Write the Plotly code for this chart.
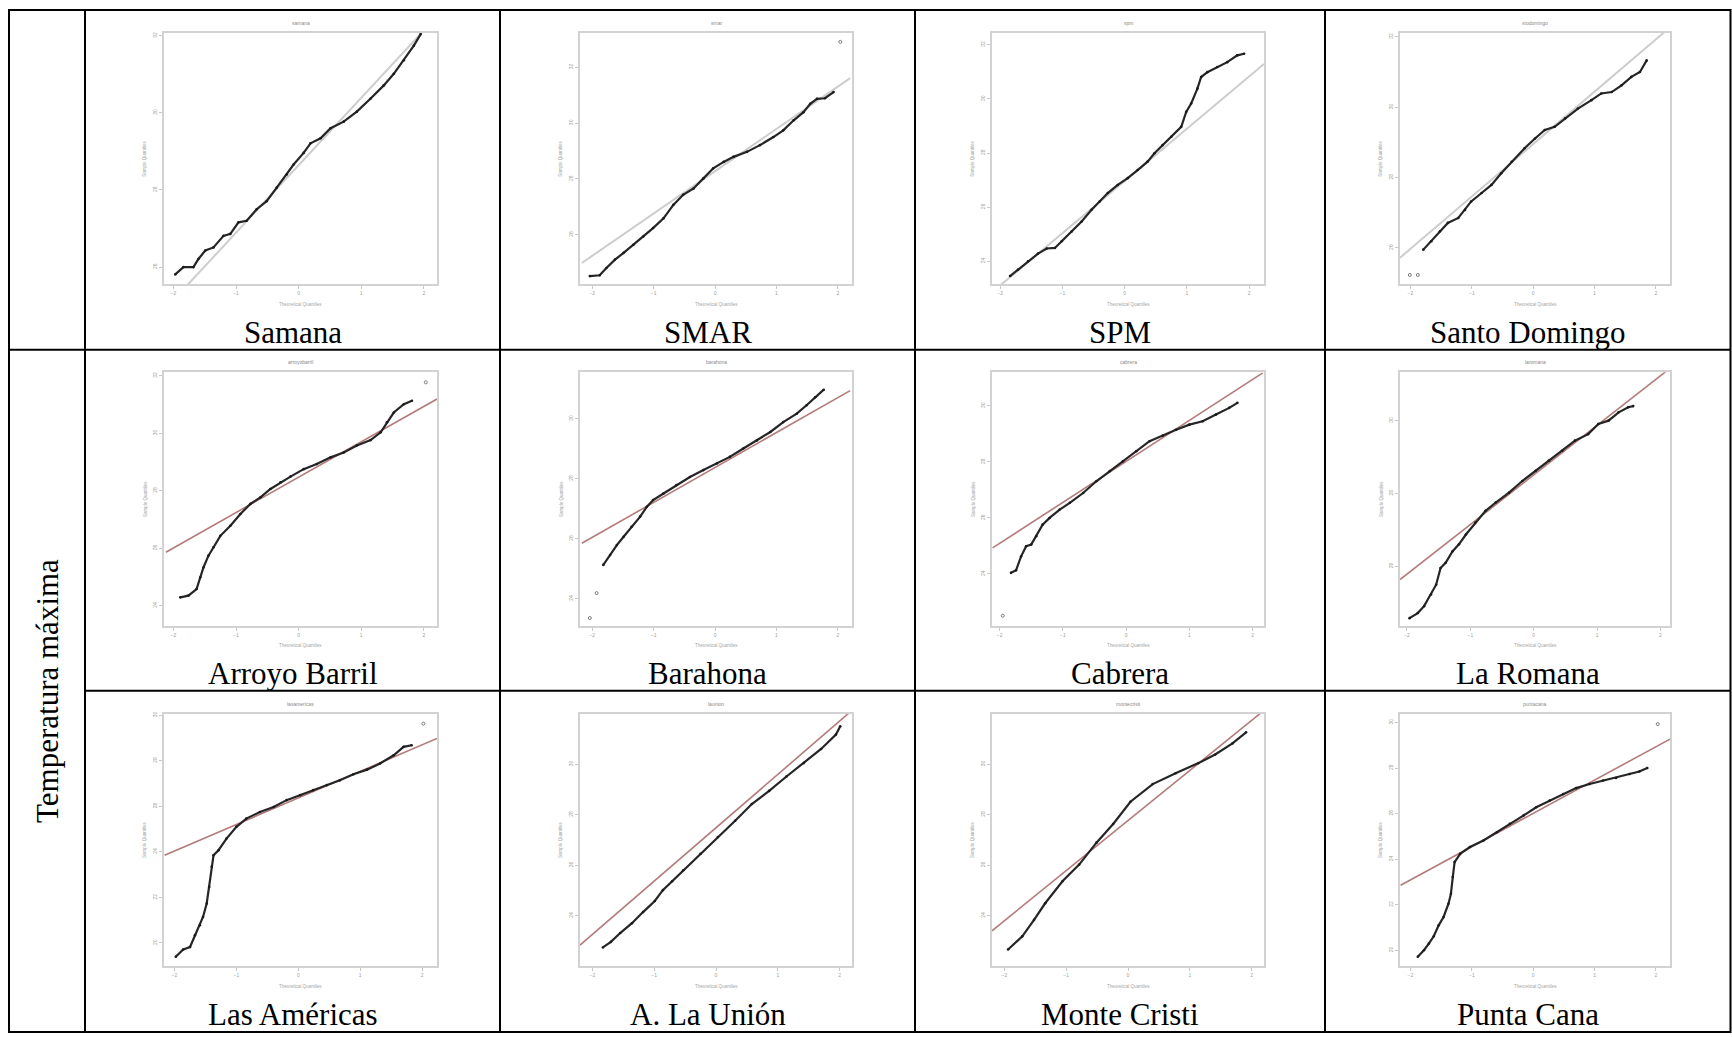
import plotly.graph_objects as go

W, H = 1732, 1037

# ---------------- data ----------------
captions = ["Samana", "SMAR", "SPM", "Santo Domingo",
            "Arroyo Barril", "Barahona", "Cabrera", "La Romana",
            "Las Américas", "A. La Unión", "Monte Cristi", "Punta Cana"]
plot_titles = ["samana", "smar", "spm", "stodomingo",
               "arroyobarril", "barahona", "cabrera", "laromana",
               "lasamericas", "launion", "montecristi", "puntacana"]
row_label = "Temperatura máxima"
x_ticks = [-2, -1, 0, 1, 2]

samana_q = [-1.97, -1.84, -1.68, -1.60, -1.49, -1.36, -1.20, -1.09, -0.96, -0.83, -0.67, -0.51, -0.35, -0.19,
            -0.08, 0.08, 0.19, 0.35, 0.51, 0.72, 0.93, 1.15, 1.36, 1.52, 1.68, 1.84, 1.95]
samana_t = [25.81, 26.00, 26.00, 26.21, 26.43, 26.51, 26.81, 26.86, 27.16, 27.20, 27.50, 27.71, 28.06, 28.40,
            28.66, 28.96, 29.21, 29.34, 29.60, 29.77, 30.03, 30.37, 30.71, 31.01, 31.36, 31.74, 32.04]
samana_ref_q = [-2.18, 2.18]
samana_ref_t = [24.83, 32.45]
samana_yticks = [26, 28, 30, 32]

smar_q = [-2.04, -1.88, -1.77, -1.63, -1.49, -1.33, -1.17, -1.01, -0.84, -0.68, -0.52, -0.35, -0.19, -0.03,
          0.14, 0.30, 0.52, 0.73, 0.95, 1.11, 1.28, 1.44, 1.55, 1.66, 1.79, 1.93]
smar_t = [24.52, 24.55, 24.81, 25.11, 25.35, 25.64, 25.94, 26.24, 26.59, 27.07, 27.43, 27.66, 28.02, 28.38,
          28.61, 28.79, 28.97, 29.21, 29.50, 29.74, 30.10, 30.39, 30.69, 30.87, 30.89, 31.11]
smar_out_q = [2.04]
smar_out_t = [32.91]
smar_ref_q = [-2.17, 2.20]
smar_ref_t = [24.99, 31.61]
smar_yticks = [26, 28, 30, 32]

spm_q = [-1.84, -1.71, -1.55, -1.39, -1.25, -1.12, -1.01, -0.85, -0.69, -0.53, -0.40, -0.27, -0.11, 0.05,
         0.21, 0.37, 0.48, 0.61, 0.75, 0.91, 0.99, 1.07, 1.17, 1.23, 1.33, 1.49, 1.65, 1.81, 1.92]
spm_t = [23.45, 23.69, 24.00, 24.28, 24.47, 24.49, 24.74, 25.10, 25.47, 25.90, 26.21, 26.52, 26.82, 27.07,
         27.37, 27.68, 27.99, 28.29, 28.60, 28.97, 29.52, 29.83, 30.38, 30.81, 30.99, 31.18, 31.36, 31.61, 31.67]
spm_ref_q = [-2.13, 2.24]
spm_ref_t = [22.85, 31.29]
spm_yticks = [24, 26, 28, 30, 32]

sd_q = [-1.79, -1.66, -1.52, -1.39, -1.22, -1.11, -1.01, -0.84, -0.68, -0.52, -0.35, -0.14, 0.03, 0.19,
        0.35, 0.52, 0.73, 0.95, 1.11, 1.28, 1.44, 1.60, 1.74, 1.85]
sd_t = [25.95, 26.19, 26.47, 26.71, 26.85, 27.08, 27.32, 27.56, 27.79, 28.12, 28.45, 28.83, 29.11, 29.35,
        29.44, 29.68, 29.96, 30.20, 30.39, 30.43, 30.62, 30.86, 31.00, 31.33]
sd_out_q = [-2.01, -1.88]
sd_out_t = [25.23, 25.23]
sd_ref_q = [-2.17, 2.23]
sd_ref_t = [25.72, 32.27]
sd_yticks = [26, 28, 30, 32]

arroyo_q = [-1.89, -1.76, -1.63, -1.57, -1.52, -1.44, -1.36, -1.25, -1.09, -0.93, -0.77, -0.61, -0.45, -0.29,
            -0.13, 0.08, 0.29, 0.51, 0.72, 0.93, 1.15, 1.31, 1.41, 1.52, 1.68, 1.81]
arroyo_t = [24.29, 24.35, 24.58, 24.99, 25.33, 25.74, 26.03, 26.43, 26.78, 27.19, 27.54, 27.77, 28.06, 28.29,
            28.49, 28.75, 28.93, 29.16, 29.33, 29.57, 29.76, 30.03, 30.38, 30.72, 31.01, 31.13]
arroyo_out_q = [2.03]
arroyo_out_t = [31.77]
arroyo_ref_q = [-2.12, 2.21]
arroyo_ref_t = [25.86, 31.19]
arroyo_yticks = [24, 26, 28, 30, 32]

barahona_q = [-1.82, -1.71, -1.60, -1.49, -1.36, -1.22, -1.11, -1.01, -0.84, -0.63, -0.41, -0.19, 0.03, 0.24,
              0.46, 0.68, 0.90, 1.11, 1.33, 1.49, 1.63, 1.77]
barahona_t = [25.13, 25.46, 25.79, 26.07, 26.40, 26.74, 27.07, 27.29, 27.51, 27.79, 28.06, 28.29, 28.51, 28.73,
              29.01, 29.28, 29.56, 29.89, 30.17, 30.45, 30.72, 30.97]
barahona_out_q = [-2.04, -1.93]
barahona_out_t = [23.36, 24.19]
barahona_ref_q = [-2.17, 2.20]
barahona_ref_t = [25.85, 30.94]
barahona_yticks = [24, 26, 28, 30]

cabrera_q = [-1.82, -1.74, -1.66, -1.58, -1.50, -1.42, -1.32, -1.21, -1.05, -0.89, -0.68, -0.47, -0.26, -0.05,
             0.16, 0.37, 0.58, 0.79, 1.00, 1.21, 1.42, 1.63, 1.76]
cabrera_t = [24.04, 24.13, 24.63, 24.99, 25.05, 25.35, 25.76, 26.00, 26.30, 26.54, 26.89, 27.31, 27.67, 28.02,
             28.38, 28.74, 28.94, 29.15, 29.33, 29.45, 29.69, 29.93, 30.11]
cabrera_out_q = [-1.95]
cabrera_out_t = [22.51]
cabrera_ref_q = [-2.11, 2.16]
cabrera_ref_t = [24.93, 31.18]
cabrera_yticks = [24, 26, 28, 30]

romana_q = [-1.96, -1.83, -1.73, -1.62, -1.54, -1.47, -1.39, -1.28, -1.18, -1.07, -0.92, -0.76, -0.60, -0.39,
            -0.18, 0.03, 0.24, 0.45, 0.65, 0.86, 1.02, 1.18, 1.34, 1.49, 1.57]
romana_t = [24.57, 24.71, 24.90, 25.22, 25.49, 25.95, 26.09, 26.41, 26.60, 26.87, 27.20, 27.52, 27.75, 28.02,
            28.34, 28.62, 28.90, 29.17, 29.45, 29.63, 29.91, 30.00, 30.23, 30.37, 30.40]
romana_ref_q = [-2.11, 2.15]
romana_ref_t = [25.63, 31.44]
romana_yticks = [26, 28, 30]

americas_q = [-1.98, -1.86, -1.75, -1.67, -1.59, -1.54, -1.48, -1.44, -1.40, -1.37, -1.29, -1.16, -1.00, -0.84,
              -0.62, -0.40, -0.19, 0.03, 0.24, 0.46, 0.67, 0.89, 1.11, 1.32, 1.54, 1.70, 1.83]
americas_t = [19.39, 19.71, 19.82, 20.34, 20.78, 21.14, 21.73, 22.46, 23.34, 23.85, 24.07, 24.58, 25.10, 25.46,
              25.75, 25.97, 26.27, 26.49, 26.71, 26.93, 27.14, 27.41, 27.61, 27.88, 28.24, 28.61, 28.68]
americas_out_q = [2.02]
americas_out_t = [29.63]
americas_ref_q = [-2.16, 2.24]
americas_ref_t = [23.85, 28.98]
americas_yticks = [20, 22, 24, 26, 28, 30]

union_q = [-1.83, -1.70, -1.55, -1.36, -1.18, -0.99, -0.86, -0.71, -0.53, -0.25, 0.03, 0.31, 0.58, 0.86,
           1.14, 1.42, 1.70, 1.94, 2.01]
union_t = [22.74, 22.96, 23.31, 23.70, 24.14, 24.58, 25.01, 25.36, 25.80, 26.45, 27.11, 27.76, 28.42, 28.94,
           29.51, 30.04, 30.60, 31.17, 31.50]
union_ref_q = [-2.2, 2.2]
union_ref_t = [22.83, 32.13]
union_yticks = [24, 26, 28, 30]

cristi_q = [-1.94, -1.71, -1.52, -1.34, -1.06, -0.79, -0.51, -0.24, 0.04, 0.40, 0.77, 1.14, 1.41, 1.69, 1.91]
cristi_t = [22.66, 23.18, 23.83, 24.49, 25.36, 26.02, 26.89, 27.63, 28.51, 29.21, 29.64, 30.04, 30.38, 30.82, 31.26]
cristi_ref_q = [-2.2, 2.2]
cristi_ref_t = [23.40, 32.13]
cristi_yticks = [24, 26, 28, 30]

puntacana_q = [-1.88, -1.78, -1.70, -1.62, -1.54, -1.46, -1.38, -1.34, -1.31, -1.28, -1.19, -1.03, -0.81, -0.59,
               -0.38, -0.16, 0.05, 0.27, 0.49, 0.70, 0.92, 1.14, 1.35, 1.57, 1.73, 1.86]
puntacana_t = [19.71, 20.00, 20.29, 20.61, 21.09, 21.46, 22.04, 22.48, 23.21, 23.87, 24.23, 24.53, 24.82, 25.18,
               25.55, 25.91, 26.28, 26.57, 26.86, 27.12, 27.30, 27.45, 27.56, 27.74, 27.85, 28.00]
puntacana_out_q = [2.03]
puntacana_out_t = [29.93]
puntacana_ref_q = [-2.16, 2.23]
puntacana_ref_t = [22.85, 29.27]
puntacana_yticks = [20, 22, 24, 26, 28, 30]

# ---------------- assemble panel table ----------------
panels = [
    (samana_q, samana_t, [], [], samana_ref_q, samana_ref_t, samana_yticks, (-2.15, 2.21), (25.55, 32.07)),
    (smar_q, smar_t, smar_out_q, smar_out_t, smar_ref_q, smar_ref_t, smar_yticks, (-2.20, 2.23), (24.22, 33.23)),
    (spm_q, spm_t, [], [], spm_ref_q, spm_ref_t, spm_yticks, (-2.13, 2.24), (23.14, 32.44)),
    (sd_q, sd_t, sd_out_q, sd_out_t, sd_ref_q, sd_ref_t, sd_yticks, (-2.17, 2.23), (24.96, 32.11)),
    (arroyo_q, arroyo_t, arroyo_out_q, arroyo_out_t, arroyo_ref_q, arroyo_ref_t, arroyo_yticks, (-2.15, 2.21), (23.30, 32.12)),
    (barahona_q, barahona_t, barahona_out_q, barahona_out_t, barahona_ref_q, barahona_ref_t, barahona_yticks, (-2.20, 2.23), (23.10, 31.55)),
    (cabrera_q, cabrera_t, cabrera_out_q, cabrera_out_t, cabrera_ref_q, cabrera_ref_t, cabrera_yticks, (-2.12, 2.18), (22.15, 31.20)),
    (romana_q, romana_t, [], [], romana_ref_q, romana_ref_t, romana_yticks, (-2.11, 2.15), (24.36, 31.33)),
    (americas_q, americas_t, americas_out_q, americas_out_t, americas_ref_q, americas_ref_t, americas_yticks, (-2.17, 2.24), (18.98, 30.07)),
    (union_q, union_t, [], [], union_ref_q, union_ref_t, union_yticks, (-2.2, 2.2), (22.0, 32.0)),
    (cristi_q, cristi_t, [], [], cristi_ref_q, cristi_ref_t, cristi_yticks, (-2.2, 2.2), (22.0, 32.0)),
    (puntacana_q, puntacana_t, puntacana_out_q, puntacana_out_t, puntacana_ref_q, puntacana_ref_t, puntacana_yticks, (-2.17, 2.23), (19.30, 30.39)),
]

# ---------------- layout geometry (pixels) ----------------
box_cols = [(164, 437), (580, 852), (992, 1264), (1400, 1670)]
box_rows = [(31, 283), (371, 625), (713, 966)]
cell_cx = [292.5, 707.5, 1120, 1527.5]
caption_cy = [331, 673, 1014]

TABLE_LEFT, TABLE_RIGHT, TABLE_TOP, TABLE_BOTTOM = 9, 1730.5, 8, 1032
VLINES = [85, 500, 915, 1325]
ROW1_LINE, ROW2_LINE = 348.5, 690


def fx(px):
    return px / W


def fy(py):
    return 1 - py / H


fig = go.Figure()
annotations = []
layout_axes = {}

for i, (q, t, oq, ot, rq, rt, yt, xr, yr) in enumerate(panels):
    r, c = divmod(i, 4)
    n = i + 1
    xa = "x" if n == 1 else f"x{n}"
    ya = "y" if n == 1 else f"y{n}"
    ref_col = "#cdcdcd" if r == 0 else "#b57a7a"
    ref_w = 2.0 if r == 0 else 1.6

    fig.add_trace(go.Scatter(x=rq, y=rt, mode="lines", line=dict(color=ref_col, width=ref_w),
                             xaxis=xa, yaxis=ya, showlegend=False, hoverinfo="skip"))
    fig.add_trace(go.Scatter(x=q, y=t, mode="lines+markers",
                             line=dict(color="#262626", width=2.2),
                             marker=dict(symbol="circle", size=2.6, color="#1a1a1a"),
                             xaxis=xa, yaxis=ya, showlegend=False))
    if oq:
        fig.add_trace(go.Scatter(x=oq, y=ot, mode="markers",
                                 marker=dict(symbol="circle-open", size=3, color="#7a7a7a", line=dict(width=1)),
                                 xaxis=xa, yaxis=ya, showlegend=False))

    bx0, bx1 = box_cols[c]
    by0, by1 = box_rows[r]
    axis_common = dict(showgrid=False, zeroline=False, showline=True, mirror=True,
                       linecolor="#d2d2d2", linewidth=1.5, ticks="outside", ticklen=3,
                       tickcolor="#c8c8c8", tickfont=dict(size=5, color="#a0a0a0", family="Liberation Sans"))
    xkey = "xaxis" if n == 1 else f"xaxis{n}"
    ykey = "yaxis" if n == 1 else f"yaxis{n}"
    layout_axes[xkey] = dict(domain=[fx(bx0), fx(bx1)], range=list(xr), anchor=ya,
                             tickvals=x_ticks, **axis_common)
    layout_axes[ykey] = dict(domain=[fy(by1), fy(by0)], range=list(yr), anchor=xa,
                             tickvals=yt, tickangle=-90, **axis_common)

    mid_x = (bx0 + bx1) / 2
    annotations.append(dict(x=fx(mid_x), y=fy(by0 - 10), xref="paper", yref="paper",
                            xanchor="center", yanchor="middle",
                            text=plot_titles[i], showarrow=False,
                            font=dict(size=5, color="#8a8a8a", family="Liberation Sans")))
    annotations.append(dict(x=fx(mid_x), y=fy(by1 + 20), xref="paper", yref="paper",
                            xanchor="center", yanchor="middle",
                            text="Theoretical Quantiles", showarrow=False,
                            font=dict(size=4.5, color="#a5a5a5", family="Liberation Sans")))
    annotations.append(dict(x=fx(bx0 - 19), y=fy((by0 + by1) / 2), xref="paper", yref="paper",
                            xanchor="center", yanchor="middle",
                            text="Sample Quantiles", showarrow=False, textangle=-90,
                            font=dict(size=4.5, color="#a5a5a5", family="Liberation Sans")))
    annotations.append(dict(x=fx(cell_cx[c]), y=fy(caption_cy[r]), xref="paper", yref="paper",
                            xanchor="center", yanchor="middle",
                            text=captions[i], showarrow=False,
                            font=dict(size=31, color="black", family="Liberation Serif")))

annotations.append(dict(x=fx(48), y=fy((ROW1_LINE + TABLE_BOTTOM) / 2), xref="paper", yref="paper",
                        xanchor="center", yanchor="middle",
                        text=row_label, showarrow=False, textangle=-90,
                        font=dict(size=31, color="black", family="Liberation Serif")))

shapes = []
line_style = dict(color="black", width=2)
shapes.append(dict(type="rect", xref="paper", yref="paper",
                   x0=fx(TABLE_LEFT), x1=fx(TABLE_RIGHT), y0=fy(TABLE_BOTTOM), y1=fy(TABLE_TOP),
                   line=line_style))
for vx in VLINES:
    shapes.append(dict(type="line", xref="paper", yref="paper", x0=fx(vx), x1=fx(vx),
                       y0=fy(TABLE_BOTTOM), y1=fy(TABLE_TOP), line=line_style))
shapes.append(dict(type="line", xref="paper", yref="paper", x0=fx(TABLE_LEFT), x1=fx(TABLE_RIGHT),
                   y0=fy(ROW1_LINE), y1=fy(ROW1_LINE), line=line_style))
shapes.append(dict(type="line", xref="paper", yref="paper", x0=fx(VLINES[0]), x1=fx(TABLE_RIGHT),
                   y0=fy(ROW2_LINE), y1=fy(ROW2_LINE), line=line_style))

fig.update_layout(width=W, height=H, margin=dict(l=0, r=0, t=0, b=0),
                  paper_bgcolor="white", plot_bgcolor="white",
                  annotations=annotations, shapes=shapes, **layout_axes)

fig.write_html("out.html")
